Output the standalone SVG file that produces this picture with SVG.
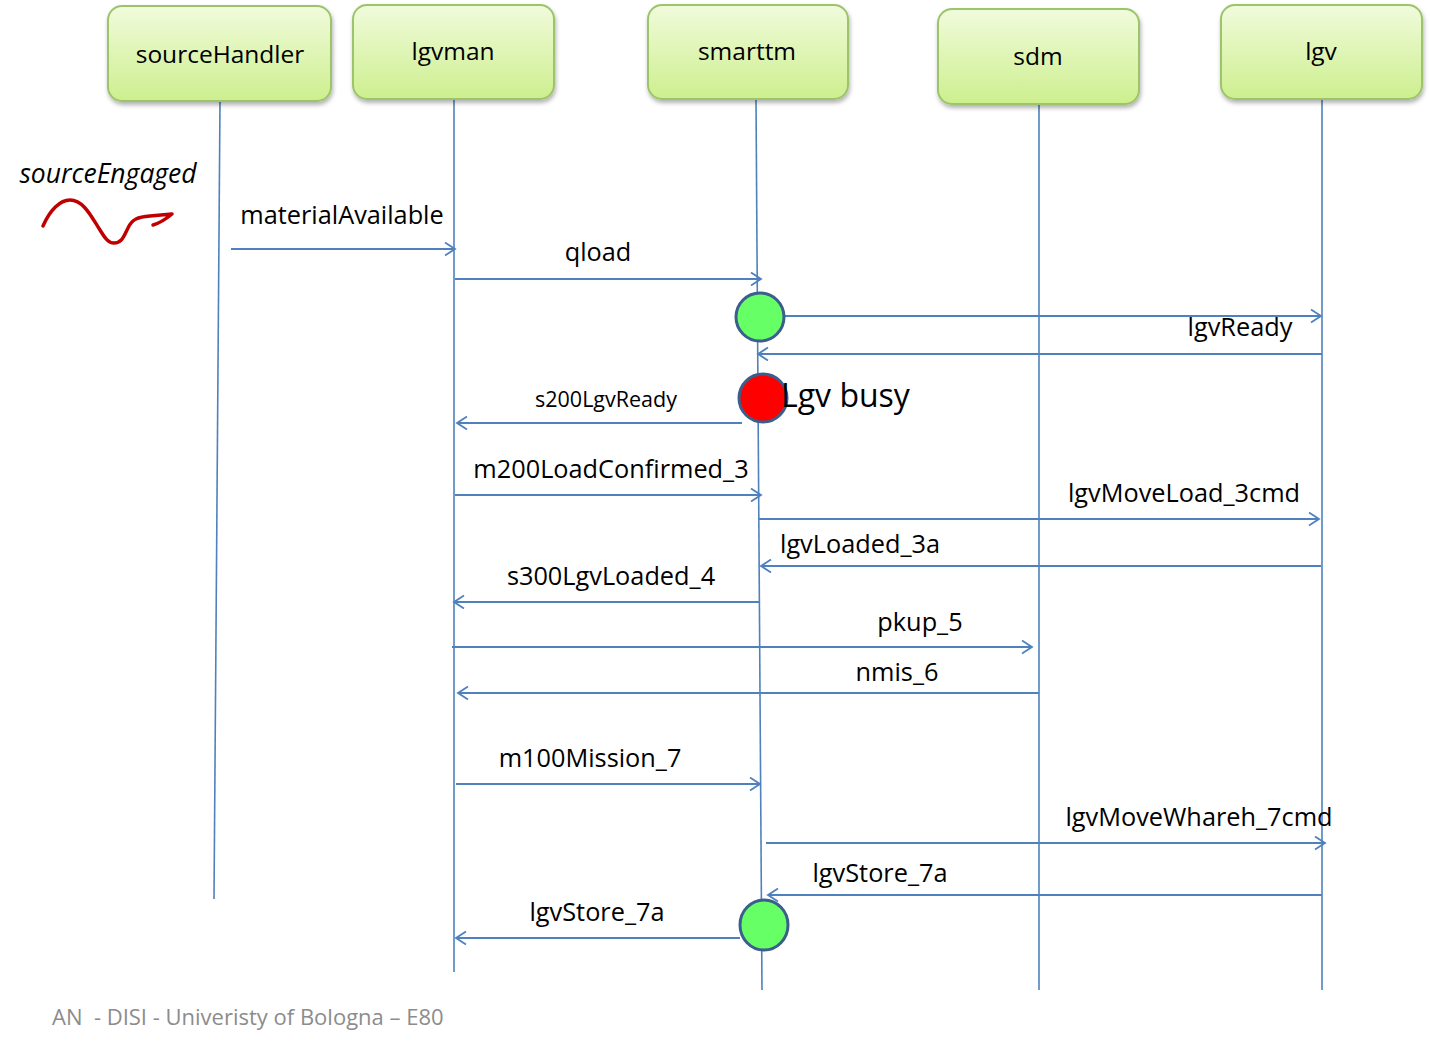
<svg xmlns="http://www.w3.org/2000/svg" width="1430" height="1047" viewBox="0 0 1430 1047">
<style>
.node rect{fill:url(#g);stroke:#9cc46a;stroke-width:2;filter:url(#sh)}
.nt{font-family:"Open Sans","Liberation Sans",sans-serif;font-size:24.5px;fill:#000;text-anchor:middle}
.lbl{font-family:"Open Sans","Liberation Sans",sans-serif;font-size:25.3px;fill:#000;text-anchor:middle}
.life{stroke:#4f81bd;stroke-width:1.6;fill:none}
.msg{stroke:#4f81bd;stroke-width:1.8;fill:none;marker-end:url(#ah)}
.act{stroke:#3b5e8c;stroke-width:3}
</style>
<defs>
<linearGradient id="g" x1="0" y1="0" x2="0" y2="1">
<stop offset="0" stop-color="#f1fbdc"/>
<stop offset="1" stop-color="#cdef8e"/>
</linearGradient>
<filter id="sh" x="-10%" y="-10%" width="130%" height="140%">
<feDropShadow dx="1" dy="3" stdDeviation="2" flood-color="#000" flood-opacity="0.3"/>
</filter>
<marker id="ah" markerUnits="userSpaceOnUse" markerWidth="14" markerHeight="16" refX="11" refY="7" orient="auto">
<path d="M1,0.5 L11,7 L1,13.5" fill="none" stroke="#4f81bd" stroke-width="1.8"/>
</marker>
</defs>
<rect width="1430" height="1047" fill="#fff"/>

<g id="lifelines">
<line class="life" x1="220" y1="101" x2="214" y2="899"/>
<line class="life" x1="454" y1="99" x2="454" y2="972"/>
<line class="life" x1="756" y1="99" x2="762" y2="990"/>
<line class="life" x1="1039" y1="104" x2="1039" y2="990"/>
<line class="life" x1="1322" y1="99" x2="1322" y2="990"/>
</g>

<g id="node-sourceHandler" class="node"><rect x="108" y="6" width="223" height="95" rx="14"/><text class="nt" x="220" y="63">sourceHandler</text></g>
<g id="node-lgvman" class="node"><rect x="353" y="5" width="201" height="94" rx="14"/><text class="nt" x="453" y="60">lgvman</text></g>
<g id="node-smarttm" class="node"><rect x="648" y="5" width="200" height="94" rx="14"/><text class="nt" x="747" y="60">smarttm</text></g>
<g id="node-sdm" class="node"><rect x="938" y="9" width="201" height="95" rx="14"/><text class="nt" x="1038" y="65">sdm</text></g>
<g id="node-lgv" class="node"><rect x="1221" y="5" width="201" height="94" rx="14"/><text class="nt" x="1321" y="60">lgv</text></g>

<g id="connectors">
<line class="msg" x1="231" y1="249" x2="455" y2="249"/>
<line class="msg" x1="455" y1="279" x2="761" y2="279"/>
<line class="msg" x1="785" y1="316" x2="1321" y2="316"/>
<line class="msg" x1="1322" y1="354" x2="758" y2="354"/>
<line class="msg" x1="742" y1="423" x2="457" y2="423"/>
<line class="msg" x1="455" y1="495" x2="761" y2="495"/>
<line class="msg" x1="759" y1="519" x2="1319" y2="519"/>
<line class="msg" x1="1321" y1="566" x2="761" y2="566"/>
<line class="msg" x1="759" y1="602" x2="454" y2="602"/>
<line class="msg" x1="452" y1="647" x2="1032" y2="647"/>
<line class="msg" x1="1039" y1="693" x2="458" y2="693"/>
<line class="msg" x1="456" y1="784" x2="760" y2="784"/>
<line class="msg" x1="766" y1="843" x2="1325" y2="843"/>
<line class="msg" x1="1322" y1="895" x2="768" y2="895"/>
<line class="msg" x1="740" y1="938" x2="456" y2="938"/>
</g>

<g id="activations">
<circle class="act" cx="760" cy="317" r="24" fill="#66ff66"/>
<circle class="act" cx="763" cy="398" r="24" fill="#ff0000"/>
<ellipse class="act" cx="764" cy="925" rx="24" ry="25" fill="#66ff66"/>
</g>

<g id="labels">
<text class="lbl" x="342" y="224">materialAvailable</text>
<text class="lbl" x="598" y="261">qload</text>
<text class="lbl" x="1240" y="336">lgvReady</text>
<text class="lbl" x="606" y="407" style="font-size:21.5px">s200LgvReady</text>
<text x="781" y="407" style="font-family:'Open Sans','Liberation Sans',sans-serif;font-size:32px;fill:#000">Lgv busy</text>
<text class="lbl" x="611" y="478">m200LoadConfirmed_3</text>
<text class="lbl" x="1184" y="502">lgvMoveLoad_3cmd</text>
<text class="lbl" x="860" y="553">lgvLoaded_3a</text>
<text class="lbl" x="611" y="585">s300LgvLoaded_4</text>
<text class="lbl" x="920" y="631">pkup_5</text>
<text class="lbl" x="897" y="681">nmis_6</text>
<text class="lbl" x="590" y="767">m100Mission_7</text>
<text class="lbl" x="1199" y="826">lgvMoveWhareh_7cmd</text>
<text class="lbl" x="880" y="882">lgvStore_7a</text>
<text class="lbl" x="597" y="921">lgvStore_7a</text>
</g>

<g id="sourceEngaged">
<text x="108" y="183" style="font-family:'Open Sans','Liberation Sans',sans-serif;font-size:26.5px;font-style:italic;fill:#000;text-anchor:middle">sourceEngaged</text>
<path d="M43,226 C50,210 60,200 70,200 C84,200 92,218 100,230 C105,238 108,243 114,243 C122,243 124,236 128,228 C132,219 138,217 150,216 L172,214 C166,219 160,223 153,225" fill="none" stroke="#c00000" stroke-width="3.5" stroke-linecap="round" stroke-linejoin="round"/>
</g>

<text id="footer" x="52" y="1025" style="font-family:'Open Sans','Liberation Sans',sans-serif;font-size:22px;fill:#8c8c8c;white-space:pre">AN  - DISI - Univeristy of Bologna – E80</text>
</svg>
